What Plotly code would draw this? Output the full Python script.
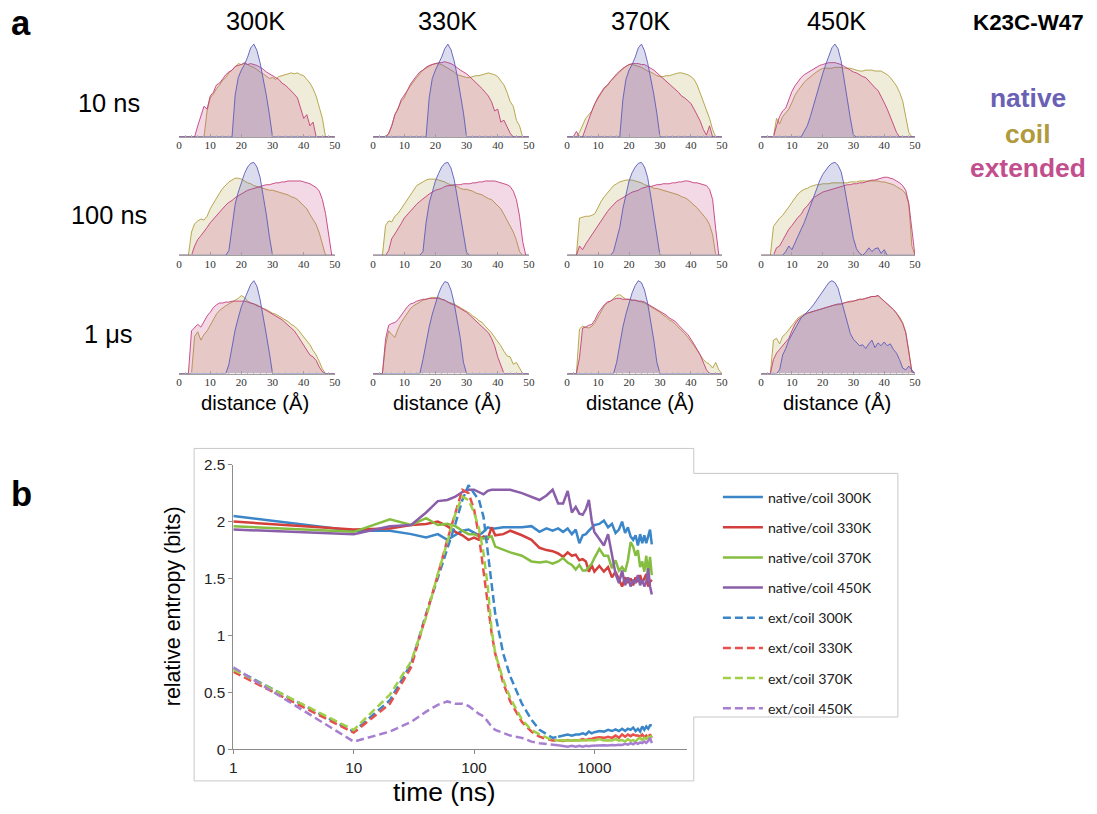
import plotly.graph_objects as go

W, H = 1097, 814
# the photographed page carries an 8px body margin and is scaled back to 1097x814;
# reference pixel coordinates are mapped through that transform
SX, SY = 1113 / 1097, 830 / 814
OFF = 8
FS = (SX + SY) / 2  # font scale

# ---------------- panel a data (distance histograms, native peak = 1) ----------------
distance = list(range(51))
temperatures = ["300K", "330K", "370K", "450K"]
sim_times = ["10 ns", "100 ns", "1 μs"]

# row 1: 10 ns
coil_300_10 = [0,0,0,0,0,0,0,0,0,0.28,
 0.42,0.46,0.52,0.56,0.61,0.64,0.69,0.72,0.75,0.79,
 0.78,0.79,0.78,0.76,0.75,0.72,0.70,0.68,0.65,0.63,
 0.64,0.62,0.65,0.66,0.67,0.68,0.69,0.68,0.69,0.67,
 0.66,0.62,0.58,0.52,0.44,0.32,0.20,0,0,0,
 0]
ext_300_10 = [0,0,0,0,0,0,0.12,0.22,0.33,0.30,
 0.44,0.48,0.56,0.58,0.63,0.67,0.70,0.72,0.76,0.77,
 0.78,0.80,0.78,0.79,0.78,0.77,0.75,0.73,0.70,0.68,
 0.66,0.64,0.62,0.58,0.56,0.53,0.50,0.46,0.42,0.30,
 0.20,0.24,0.12,0.16,0,0,0,0,0,0,
 0]
nat_300_10 = [0,0,0,0,0,0,0,0,0,0,
 0,0,0,0,0,0,0,0,0.45,0.64,
 0.72,0.78,0.86,0.96,1.00,0.93,0.80,0.64,0.45,0.24,
 0,0,0,0,0,0,0,0,0,0,
 0,0,0,0,0,0,0,0,0,0,
 0]
coil_330_10 = [0,0,0,0,0,0.03,0.12,0.24,0.32,0.38,
 0.42,0.50,0.55,0.60,0.64,0.68,0.72,0.74,0.76,0.78,
 0.79,0.79,0.78,0.76,0.74,0.72,0.70,0.67,0.66,0.65,
 0.64,0.64,0.65,0.66,0.66,0.67,0.68,0.69,0.68,0.67,
 0.65,0.61,0.56,0.48,0.38,0.33,0.18,0.12,0,0,
 0]
ext_330_10 = [0,0,0,0,0,0.04,0.12,0.24,0.30,0.40,
 0.45,0.50,0.57,0.62,0.66,0.70,0.72,0.75,0.77,0.78,
 0.79,0.80,0.80,0.81,0.80,0.79,0.77,0.74,0.72,0.70,
 0.68,0.65,0.62,0.58,0.55,0.52,0.48,0.44,0.38,0.28,
 0.30,0.16,0.18,0.10,0.04,0,0,0,0,0,
 0]
nat_330_10 = [0,0,0,0,0,0,0,0,0,0,
 0,0,0,0,0,0,0,0,0.42,0.63,
 0.72,0.79,0.86,0.95,1.00,0.94,0.82,0.66,0.47,0.26,
 0,0,0,0,0,0,0,0,0,0,
 0,0,0,0,0,0,0,0,0,0,
 0]
coil_370_10 = [0,0,0,0,0.05,0.12,0.20,0.24,0.28,0.36,
 0.42,0.47,0.52,0.55,0.60,0.63,0.67,0.70,0.74,0.76,
 0.78,0.78,0.77,0.76,0.75,0.73,0.71,0.70,0.68,0.66,
 0.65,0.65,0.66,0.66,0.67,0.68,0.69,0.69,0.68,0.67,
 0.65,0.62,0.56,0.47,0.36,0.28,0.20,0.08,0,0,
 0]
ext_370_10 = [0,0,0,0.06,0,0,0.10,0.20,0.28,0.36,
 0.43,0.48,0.53,0.56,0.60,0.65,0.68,0.71,0.74,0.76,
 0.78,0.79,0.79,0.79,0.78,0.78,0.76,0.74,0.72,0.69,
 0.66,0.63,0.60,0.57,0.55,0.52,0.48,0.44,0.42,0.39,
 0.36,0.30,0.24,0.17,0.08,0.02,0.12,0,0,0,
 0]
nat_370_10 = [0,0,0,0,0,0,0,0,0,0,
 0,0,0,0,0,0,0,0,0.40,0.62,
 0.72,0.78,0.86,0.96,1.00,0.93,0.80,0.64,0.46,0.25,
 0,0,0,0,0,0,0,0,0,0,
 0,0,0,0,0,0,0,0,0,0,
 0]
coil_450_10 = [0,0,0,0,0,0.20,0.14,0.22,0.26,0.30,
 0.37,0.45,0.50,0.55,0.59,0.62,0.65,0.68,0.70,0.72,
 0.74,0.74,0.74,0.74,0.75,0.75,0.75,0.74,0.74,0.74,
 0.73,0.72,0.71,0.71,0.72,0.72,0.72,0.71,0.71,0.71,
 0.69,0.67,0.64,0.60,0.55,0.48,0.39,0.22,0.05,0,
 0]
ext_450_10 = [0,0,0,0,0,0.12,0.22,0.28,0.31,0.40,
 0.49,0.55,0.60,0.64,0.67,0.69,0.71,0.73,0.75,0.77,
 0.78,0.79,0.80,0.80,0.80,0.79,0.78,0.76,0.74,0.72,
 0.70,0.69,0.67,0.65,0.64,0.60,0.57,0.53,0.50,0.44,
 0.37,0.30,0.22,0.12,0.05,0,0,0,0,0,
 0]
nat_450_10 = [0,0,0,0,0,0,0,0,0,0,
 0,0,0,0,0.06,0.12,0.22,0.34,0.46,0.56,
 0.68,0.78,0.88,0.96,1.00,0.95,0.82,0.60,0.40,0.20,
 0.02,0,0,0,0,0,0,0,0,0,
 0,0,0,0,0,0,0,0,0,0,
 0]

# row 2: 100 ns
coil_300_100 = [0,0,0,0,0.25,0.34,0.37,0.39,0.38,0.42,
 0.50,0.56,0.61,0.67,0.72,0.76,0.79,0.81,0.83,0.83,
 0.82,0.80,0.78,0.77,0.75,0.74,0.73,0.72,0.71,0.70,
 0.70,0.69,0.68,0.67,0.66,0.65,0.63,0.62,0.60,0.57,
 0.54,0.50,0.44,0.39,0.33,0.24,0.12,0,0,0,
 0]
ext_300_100 = [0,0,0,0,0,0.10,0.17,0.21,0.25,0.30,
 0.35,0.39,0.43,0.47,0.51,0.54,0.57,0.59,0.62,0.64,
 0.66,0.68,0.70,0.71,0.72,0.73,0.74,0.75,0.76,0.76,
 0.77,0.78,0.78,0.79,0.79,0.80,0.80,0.80,0.80,0.80,
 0.79,0.78,0.77,0.75,0.73,0.69,0.60,0.45,0.20,0,
 0]
nat_300_100 = [0,0,0,0,0,0,0,0,0,0,
 0,0,0,0,0,0,0.05,0.32,0.55,0.68,
 0.79,0.88,0.95,0.99,1.00,0.95,0.84,0.66,0.44,0.20,
 0,0,0,0,0,0,0,0,0,0,
 0,0,0,0,0,0,0,0,0,0,
 0]
coil_330_100 = [0,0,0,0,0.32,0.37,0.36,0.42,0.45,0.50,
 0.55,0.61,0.66,0.71,0.75,0.77,0.79,0.81,0.82,0.82,
 0.82,0.81,0.80,0.79,0.77,0.76,0.75,0.74,0.72,0.71,
 0.71,0.70,0.69,0.67,0.66,0.65,0.63,0.61,0.60,0.57,
 0.54,0.50,0.44,0.38,0.32,0.25,0.16,0.04,0,0,
 0]
ext_330_100 = [0,0,0,0,0,0.05,0.18,0.23,0.28,0.34,
 0.40,0.44,0.48,0.52,0.55,0.58,0.61,0.64,0.66,0.68,
 0.70,0.71,0.72,0.74,0.75,0.75,0.76,0.76,0.76,0.77,
 0.77,0.77,0.78,0.78,0.79,0.79,0.80,0.80,0.80,0.80,
 0.79,0.78,0.77,0.76,0.74,0.69,0.60,0.42,0.15,0,
 0]
nat_330_100 = [0,0,0,0,0,0,0,0,0,0,
 0,0,0,0,0,0,0.04,0.35,0.56,0.69,
 0.80,0.88,0.95,0.99,1.00,0.94,0.82,0.63,0.42,0.22,
 0.03,0,0,0,0,0,0,0,0,0,
 0,0,0,0,0,0,0,0,0,0,
 0]
coil_370_100 = [0,0,0,0,0.40,0.41,0.42,0.42,0.43,0.45,
 0.52,0.58,0.63,0.67,0.71,0.75,0.77,0.79,0.80,0.81,
 0.81,0.81,0.80,0.79,0.78,0.76,0.75,0.74,0.72,0.72,
 0.71,0.70,0.69,0.68,0.67,0.66,0.65,0.63,0.62,0.60,
 0.57,0.55,0.51,0.47,0.43,0.39,0.33,0.22,0,0,
 0]
ext_370_100 = [0,0,0,0,0.10,0.06,0.12,0.17,0.22,0.27,
 0.33,0.38,0.43,0.47,0.51,0.55,0.58,0.60,0.62,0.64,
 0.66,0.68,0.69,0.70,0.72,0.73,0.74,0.74,0.75,0.76,
 0.76,0.77,0.77,0.77,0.78,0.78,0.79,0.79,0.80,0.80,
 0.79,0.78,0.78,0.77,0.76,0.75,0.71,0.60,0.28,0,
 0]
nat_370_100 = [0,0,0,0,0,0,0,0,0,0,
 0,0,0,0,0,0.04,0.16,0.30,0.50,0.66,
 0.80,0.89,0.95,0.99,1.00,0.95,0.84,0.64,0.42,0.22,
 0,0,0,0,0,0,0,0,0,0,
 0,0,0,0,0,0,0,0,0,0,
 0]
coil_450_100 = [0,0,0,0,0.31,0.36,0.40,0.43,0.47,0.52,
 0.57,0.62,0.66,0.69,0.71,0.72,0.74,0.75,0.76,0.76,
 0.77,0.77,0.77,0.78,0.78,0.78,0.78,0.78,0.78,0.79,
 0.79,0.79,0.80,0.80,0.80,0.80,0.80,0.80,0.80,0.79,
 0.79,0.78,0.77,0.76,0.74,0.72,0.70,0.66,0.55,0.10,
 0]
ext_450_100 = [0,0,0,0,0,0.08,0.10,0.16,0.22,0.28,
 0.32,0.37,0.41,0.44,0.50,0.53,0.58,0.62,0.64,0.66,
 0.68,0.69,0.70,0.71,0.72,0.73,0.74,0.75,0.76,0.76,
 0.77,0.77,0.78,0.78,0.79,0.80,0.81,0.81,0.82,0.83,
 0.84,0.84,0.83,0.82,0.80,0.78,0.75,0.70,0.56,0.25,
 0]
nat_450_100 = [0,0,0,0,0,0,0,0,0.04,0.10,
 0.06,0.14,0.22,0.28,0.35,0.44,0.55,0.63,0.72,0.80,
 0.87,0.92,0.96,0.99,1.00,0.97,0.90,0.75,0.55,0.35,
 0.18,0.07,0.02,0,0.03,0.08,0.04,0.07,0.08,0.02,
 0.06,0,0,0,0,0,0,0,0,0,
 0]

# row 3: 1 us
coil_300_1000 = [0,0,0,0,0,0.40,0.45,0.36,0.42,0.46,
 0.52,0.58,0.64,0.68,0.71,0.73,0.75,0.77,0.79,0.81,
 0.84,0.82,0.78,0.76,0.75,0.74,0.72,0.70,0.69,0.67,
 0.65,0.64,0.62,0.60,0.58,0.56,0.53,0.51,0.48,0.44,
 0.39,0.35,0.31,0.25,0.20,0.13,0.05,0,0,0,
 0]
ext_300_1000 = [0,0,0,0,0.46,0.50,0.53,0.50,0.56,0.62,
 0.66,0.71,0.74,0.76,0.76,0.77,0.77,0.78,0.78,0.78,
 0.78,0.78,0.77,0.76,0.75,0.73,0.72,0.70,0.68,0.66,
 0.64,0.62,0.60,0.58,0.55,0.52,0.49,0.46,0.41,0.36,
 0.31,0.25,0.20,0.18,0.14,0.07,0.02,0,0,0,
 0]
nat_300_1000 = [0,0,0,0,0,0,0,0,0,0,
 0,0,0,0,0,0,0.10,0.30,0.47,0.60,
 0.72,0.80,0.88,0.96,1.00,0.94,0.80,0.63,0.42,0.22,
 0,0,0,0,0,0,0,0,0,0,
 0,0,0,0,0,0,0,0,0,0,
 0]
coil_330_1000 = [0,0,0,0,0.30,0.46,0.42,0.39,0.48,0.55,
 0.60,0.65,0.70,0.73,0.75,0.77,0.79,0.80,0.81,0.82,
 0.82,0.82,0.80,0.79,0.77,0.76,0.75,0.73,0.71,0.69,
 0.67,0.65,0.62,0.60,0.57,0.55,0.51,0.48,0.44,0.39,
 0.35,0.30,0.24,0.19,0.18,0.10,0.12,0.06,0,0,
 0]
ext_330_1000 = [0,0,0,0,0.37,0.52,0.54,0.55,0.58,0.63,
 0.68,0.72,0.75,0.76,0.78,0.79,0.80,0.80,0.81,0.81,
 0.81,0.81,0.80,0.79,0.77,0.75,0.74,0.72,0.70,0.68,
 0.66,0.63,0.60,0.57,0.54,0.51,0.48,0.44,0.38,0.30,
 0.18,0.08,0,0,0,0,0,0,0,0,
 0]
nat_330_1000 = [0,0,0,0,0,0,0,0,0,0,
 0,0,0,0,0,0,0.15,0.34,0.50,0.64,
 0.76,0.86,0.94,0.99,0.98,0.90,0.76,0.58,0.38,0.12,
 0,0,0,0,0,0,0,0,0,0,
 0,0,0,0,0,0,0,0,0,0,
 0]
coil_370_1000 = [0,0,0,0,0.48,0.51,0.50,0.49,0.51,0.55,
 0.61,0.67,0.73,0.76,0.78,0.81,0.84,0.85,0.82,0.80,
 0.80,0.79,0.79,0.78,0.77,0.76,0.74,0.72,0.70,0.68,
 0.66,0.63,0.61,0.58,0.56,0.53,0.50,0.46,0.43,0.39,
 0.35,0.30,0.25,0.20,0.15,0.12,0.10,0.06,0.12,0.04,
 0]
ext_370_1000 = [0,0,0,0,0.17,0.49,0.50,0.52,0.53,0.58,
 0.65,0.70,0.74,0.77,0.78,0.80,0.81,0.81,0.80,0.80,
 0.80,0.79,0.79,0.78,0.78,0.77,0.75,0.73,0.71,0.69,
 0.67,0.65,0.63,0.60,0.58,0.56,0.52,0.49,0.46,0.42,
 0.37,0.32,0.26,0.20,0.12,0.04,0,0,0,0,
 0]
nat_370_1000 = [0,0,0,0,0,0,0,0,0,0,
 0,0,0,0,0,0,0.12,0.32,0.50,0.64,
 0.77,0.87,0.95,1.00,0.98,0.90,0.76,0.57,0.36,0.12,
 0,0,0,0,0,0,0,0,0,0,
 0,0,0,0,0,0,0,0,0,0,
 0]
coil_450_1000 = [0,0,0,0,0.36,0.38,0.32,0.40,0.43,0.47,
 0.52,0.56,0.60,0.62,0.64,0.65,0.66,0.67,0.68,0.69,
 0.70,0.71,0.72,0.73,0.74,0.74,0.75,0.76,0.77,0.77,
 0.78,0.79,0.80,0.80,0.81,0.82,0.83,0.83,0.84,0.81,
 0.78,0.76,0.73,0.69,0.65,0.61,0.55,0.45,0.25,0.02,
 0]
ext_450_1000 = [0,0,0,0,0.15,0.22,0.26,0.30,0.33,0.38,
 0.46,0.53,0.58,0.61,0.63,0.65,0.66,0.67,0.68,0.69,
 0.70,0.71,0.72,0.73,0.74,0.75,0.75,0.76,0.77,0.78,
 0.78,0.79,0.80,0.80,0.81,0.82,0.83,0.83,0.84,0.81,
 0.78,0.76,0.73,0.69,0.65,0.60,0.54,0.44,0.24,0.02,
 0]
nat_450_1000 = [0,0,0,0,0,0,0.04,0.20,0.27,0.36,
 0.42,0.48,0.55,0.60,0.63,0.66,0.70,0.74,0.79,0.84,
 0.89,0.94,0.98,1.00,0.98,0.92,0.80,0.66,0.56,0.43,
 0.37,0.34,0.30,0.31,0.27,0.32,0.36,0.28,0.33,0.30,
 0.34,0.30,0.32,0.26,0.22,0.15,0.06,0.04,0.08,0.04,
 0]

panels = [
    [(coil_300_10, ext_300_10, nat_300_10), (coil_330_10, ext_330_10, nat_330_10),
     (coil_370_10, ext_370_10, nat_370_10), (coil_450_10, ext_450_10, nat_450_10)],
    [(coil_300_100, ext_300_100, nat_300_100), (coil_330_100, ext_330_100, nat_330_100),
     (coil_370_100, ext_370_100, nat_370_100), (coil_450_100, ext_450_100, nat_450_100)],
    [(coil_300_1000, ext_300_1000, nat_300_1000), (coil_330_1000, ext_330_1000, nat_330_1000),
     (coil_370_1000, ext_370_1000, nat_370_1000), (coil_450_1000, ext_450_1000, nat_450_1000)],
]

# ---------------- panel b data (relative entropy vs time) ----------------
time_ns = [1, 10, 20, 30, 40, 50, 60, 70, 80, 90, 100, 110, 120, 130, 140, 150, 175, 200,
           250, 300, 350, 400, 450, 500, 550, 600, 650, 700, 750, 800, 850, 900, 950, 1000,
           1100, 1200, 1300, 1400, 1500, 1600, 1700, 1800, 1900, 2000, 2100, 2200, 2300,
           2400, 2500, 2600, 2700, 2800, 2900, 3000]
native_coil_300 = [2.05,1.92,1.92,1.89,1.86,1.89,1.84,1.88,1.92,1.93,
 1.90,1.88,1.91,1.95,1.94,1.94,1.95,1.95,1.95,1.96,
 1.91,1.94,1.92,1.94,1.91,1.94,1.89,1.93,1.81,1.88,
 1.89,1.92,1.95,1.97,1.98,2.01,1.95,1.98,1.90,1.93,
 2.00,1.90,1.95,1.87,1.84,1.88,1.79,1.89,1.81,1.88,
 1.81,1.88,1.93,1.80]
native_coil_330 = [2.00,1.93,1.94,1.97,1.98,2.00,1.96,1.91,1.88,1.84,
 1.86,1.84,1.87,1.85,1.95,1.88,1.89,1.92,1.88,1.84,
 1.77,1.75,1.74,1.72,1.69,1.73,1.70,1.71,1.66,1.67,
 1.65,1.56,1.62,1.56,1.61,1.56,1.60,1.51,1.56,1.49,
 1.43,1.51,1.47,1.50,1.44,1.51,1.47,1.53,1.46,1.50,
 1.54,1.43,1.47,1.49]
native_coil_370 = [1.96,1.91,2.02,1.97,2.03,1.97,1.98,1.96,1.92,1.89,
 1.89,1.87,1.85,1.86,1.87,1.78,1.75,1.73,1.70,1.65,
 1.64,1.65,1.63,1.65,1.68,1.64,1.62,1.58,1.62,1.57,
 1.57,1.60,1.63,1.68,1.76,1.70,1.70,1.59,1.66,1.57,
 1.60,1.56,1.66,1.82,1.78,1.70,1.75,1.60,1.65,1.56,
 1.70,1.54,1.69,1.53]
native_coil_450 = [1.93,1.89,1.96,1.97,2.08,2.18,2.19,2.22,2.26,2.28,
 2.28,2.26,2.24,2.27,2.28,2.28,2.28,2.28,2.25,2.22,
 2.19,2.23,2.28,2.16,2.16,2.27,2.08,2.13,2.07,2.06,
 2.11,2.19,2.01,1.91,1.85,1.79,1.89,1.72,1.54,1.46,
 1.57,1.44,1.51,1.43,1.49,1.46,1.53,1.44,1.49,1.43,
 1.47,1.59,1.43,1.36]
ext_coil_300 = [0.71,0.155,0.43,0.75,1.19,1.51,1.75,1.98,2.19,2.32,
 2.25,2.19,2.04,1.75,1.46,1.19,0.84,0.64,0.40,0.26,
 0.17,0.13,0.10,0.11,0.12,0.13,0.12,0.13,0.13,0.14,
 0.13,0.155,0.14,0.15,0.16,0.155,0.17,0.16,0.175,0.16,
 0.18,0.16,0.18,0.17,0.19,0.16,0.18,0.155,0.20,0.17,
 0.20,0.18,0.21,0.21]
ext_coil_330 = [0.68,0.146,0.40,0.72,1.18,1.53,1.84,2.07,2.28,2.25,
 2.11,1.87,1.57,1.28,1.02,0.84,0.58,0.42,0.24,0.155,
 0.11,0.09,0.076,0.076,0.073,0.08,0.076,0.08,0.08,0.09,
 0.08,0.09,0.09,0.10,0.105,0.10,0.11,0.10,0.12,0.10,
 0.13,0.11,0.13,0.115,0.13,0.12,0.12,0.11,0.13,0.105,
 0.12,0.10,0.13,0.10]
ext_coil_370 = [0.70,0.17,0.48,0.77,1.16,1.54,1.82,2.07,2.22,2.19,
 2.08,1.94,1.72,1.43,1.05,0.84,0.61,0.45,0.26,0.17,
 0.13,0.10,0.08,0.076,0.08,0.076,0.08,0.076,0.08,0.076,
 0.08,0.08,0.08,0.076,0.09,0.076,0.08,0.076,0.09,0.076,
 0.08,0.067,0.09,0.073,0.08,0.067,0.09,0.10,0.08,0.10,
 0.09,0.11,0.10,0.12]
ext_coil_450 = [0.72,0.067,0.155,0.24,0.33,0.39,0.42,0.40,0.40,0.38,
 0.345,0.31,0.29,0.24,0.20,0.17,0.146,0.12,0.10,0.067,
 0.053,0.047,0.038,0.035,0.03,0.023,0.03,0.023,0.03,0.023,
 0.03,0.026,0.03,0.032,0.03,0.035,0.032,0.038,0.035,0.04,
 0.038,0.047,0.04,0.053,0.044,0.058,0.047,0.06,0.053,0.067,
 0.056,0.073,0.10,0.053]

for arr in [a for row in panels for p in row for a in p]:
    assert len(arr) == 51, len(arr)
for arr in [native_coil_300, native_coil_330, native_coil_370, native_coil_450,
            ext_coil_300, ext_coil_330, ext_coil_370, ext_coil_450]:
    assert len(arr) == len(time_ns), len(arr)

# ---------------- helpers / styles ----------------
def fx(px):  # reference pixel -> paper fraction
    return (px * SX - OFF) / W

def fy(py):
    return 1 - (py * SY - OFF) / H

def fs(size):
    return round(size * FS, 1)

col_px = [(182, 337), (375, 530), (568, 722), (761, 914)]
col_center = [258, 449, 641, 836]
row_base = [136, 254.5, 373]
row_label_y = [102, 214, 333]
UNIT_PX = 93
YTOP = 1.05

hist_styles = [  # coil, extended, native
    ("rgba(176,158,62,0.9)", "rgba(176,160,64,0.20)"),
    ("rgba(196,62,124,0.9)", "rgba(196,64,128,0.20)"),
    ("rgba(92,92,186,0.9)", "rgba(96,96,180,0.22)"),
]

fig = go.Figure()
axes = {}
for r in range(3):
    for c in range(4):
        k = r * 4 + c + 1
        s = "" if k == 1 else str(k)
        for vals, (lc, fc) in zip(panels[r][c], hist_styles):
            fig.add_trace(go.Scatter(
                x=distance, y=vals, mode="lines", line=dict(color=lc, width=1),
                fill="tozeroy", fillcolor=fc, xaxis="x" + s, yaxis="y" + s,
                showlegend=False, hoverinfo="skip"))
        x0, x1 = col_px[c]
        axes["xaxis" + s] = dict(
            domain=[fx(x0), fx(x1)], range=[0, 50], anchor="y" + s,
            showgrid=False, zeroline=False, showline=True, linecolor="#a0a0a0", linewidth=1,
            ticks="inside", ticklen=3, tickcolor="#a0a0a0", tickwidth=1,
            tickvals=[0, 10, 20, 30, 40, 50],
            tickfont=dict(family="Liberation Serif", size=fs(11), color="#333"),
            ticklabelstandoff=-2,
            minor=dict(dtick=2, ticks="inside", ticklen=1.5, tickcolor="#b8b8b8"),
            layer="above traces", fixedrange=True)
        axes["yaxis" + s] = dict(
            domain=[fy(row_base[r]), fy(row_base[r] - UNIT_PX * YTOP)],
            range=[0, YTOP], anchor="x" + s, visible=False, fixedrange=True)

# panel b traces
b_series = [
    ("native/coil 300K", native_coil_300, "#3a86c8", "solid"),
    ("native/coil 330K", native_coil_330, "#d43f3b", "solid"),
    ("native/coil 370K", native_coil_370, "#84bd3f", "solid"),
    ("native/coil 450K", native_coil_450, "#8a5ea8", "solid"),
    ("ext/coil 300K", ext_coil_300, "#3a86c8", "dash"),
    ("ext/coil 330K", ext_coil_330, "#e8514b", "dash"),
    ("ext/coil 370K", ext_coil_370, "#a0cf48", "dash"),
    ("ext/coil 450K", ext_coil_450, "#a77fd0", "dash"),
]
split_t = 500
split_i = time_ns.index(split_t)
for gi, (name, vals, colr, style) in enumerate(b_series):
    if style == "solid":
        fig.add_trace(go.Scatter(x=time_ns, y=vals, name=name, mode="lines",
                                 line=dict(color=colr, width=2.5),
                                 xaxis="x13", yaxis="y13", legendgroup=f"g{gi}"))
    else:
        fig.add_trace(go.Scatter(x=time_ns[:split_i + 1], y=vals[:split_i + 1], name=name,
                                 mode="lines", line=dict(color=colr, width=2.5, dash="8px,4px"),
                                 xaxis="x13", yaxis="y13", legendgroup=f"g{gi}"))
        fig.add_trace(go.Scatter(x=time_ns[split_i:], y=vals[split_i:], name=name,
                                 mode="lines", line=dict(color=colr, width=2.5),
                                 xaxis="x13", yaxis="y13", legendgroup=f"g{gi}",
                                 showlegend=False))

axes["xaxis13"] = dict(
    type="log", range=[0, 3.77], domain=[fx(236), fx(687.3)], anchor="y13",
    showgrid=False, zeroline=False, showline=True, linecolor="#8c8c8c", linewidth=1,
    ticks="outside", ticklen=4, tickcolor="#8c8c8c",
    tickvals=[1, 10, 100, 1000], ticktext=["1", "10", "100", "1000"],
    tickfont=dict(family="Liberation Sans", size=fs(15), color="#222"),
    ticklabelstandoff=0, fixedrange=True)
axes["yaxis13"] = dict(
    range=[0, 2.5], domain=[fy(749.3), fy(464.3)], anchor="x13",
    showgrid=False, zeroline=False, showline=True, linecolor="#8c8c8c", linewidth=1,
    ticks="outside", ticklen=4, tickcolor="#8c8c8c",
    tickvals=[0, 0.5, 1, 1.5, 2, 2.5], ticktext=["0", "0.5", "1", "1.5", "2", "2.5"],
    tickfont=dict(family="Liberation Sans", size=fs(15), color="#222"), fixedrange=True)

# ---------------- annotations ----------------
ann = []
def text(x, y, t, size, color="#000", bold=False, family="Liberation Sans", angle=0):
    ann.append(dict(x=fx(x), y=fy(y), xref="paper", yref="paper",
                    text=f"<b>{t}</b>" if bold else t,
                    showarrow=False, xanchor="center", yanchor="middle", textangle=angle,
                    font=dict(family=family, size=fs(size), color=color)))

text(25, 22, "a", 34, bold=True)
text(25, 494, "b", 34, bold=True)
for c, t in enumerate(temperatures):
    text(col_center[c], 20, t, 25)
    text(col_center[c], 402, "distance (Å)", 20)
for r, t in enumerate(sim_times):
    text(112, row_label_y[r], t, 25)
text(1027, 21, "K23C-W47", 22, bold=True)
text(1026, 97, "native", 26, color="#6a60b4", bold=True)
text(1026, 133, "coil", 26, color="#b09a3c", bold=True)
text(1026, 167, "extended", 26, color="#c24e8e", bold=True)
text(176, 606, "relative entropy (bits)", 21, angle=-90)
text(446, 792, "time (ns)", 26)   # kept a little higher so it is not clipped at the edge

frame = (f"M {fx(197)},{fy(448)} L {fx(694)},{fy(448)} L {fx(694)},{fy(473)} "
         f"L {fx(897)},{fy(473)} L {fx(897)},{fy(717)} L {fx(694)},{fy(717)} "
         f"L {fx(694)},{fy(781)} L {fx(197)},{fy(781)} Z")

fig.update_layout(
    width=W, height=H, autosize=False,
    margin=dict(l=0, r=0, t=0, b=0),
    paper_bgcolor="white", plot_bgcolor="white",
    annotations=ann,
    shapes=[dict(type="path", path=frame, xref="paper", yref="paper",
                 line=dict(color="#c8c8c8", width=1), layer="below")],
    legend=dict(x=fx(718), y=fy(481), xanchor="left", yanchor="top",
                bgcolor="rgba(0,0,0,0)", borderwidth=0,
                font=dict(family="Lato", size=fs(14), color="#222"),
                tracegroupgap=8.7, traceorder="grouped", itemwidth=40),
    hovermode=False,
    **axes,
)

fig.write_html("out.html")
